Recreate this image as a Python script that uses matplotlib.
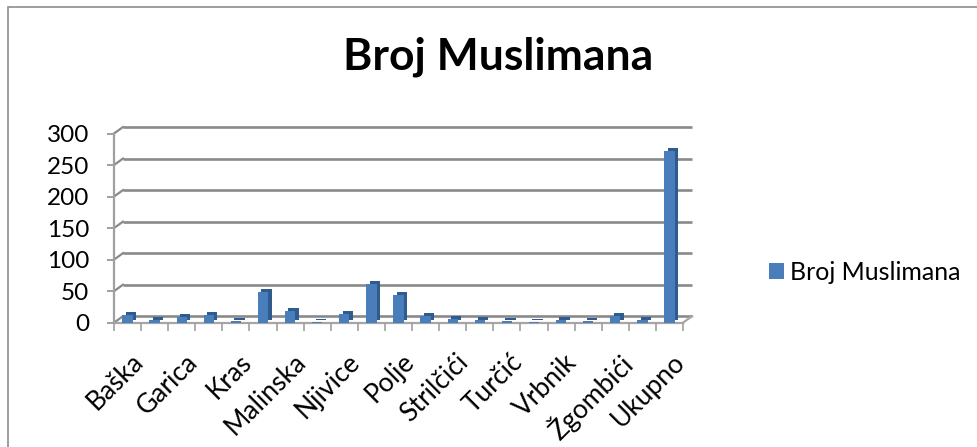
import matplotlib
matplotlib.use("Agg")
import matplotlib.pyplot as plt
import matplotlib.transforms as mtrans
from matplotlib.patches import Patch
import numpy as np

plt.rcParams['font.family'] = ['Lato', 'DejaVu Sans']

categories = ["Baška", "Dobrinj", "Garica", "Kornić", "Kras", "Krk", "Malinska",
              "Milohnići", "Njivice", "Omišalj", "Polje", "Punat", "Strilčići",
              "Šilo", "Turčić", "Vantačići", "Vrbnik", "Vrh", "Žgombići",
              "Ostalo", "Ukupno"]
values = [12, 4, 9, 12, 3, 49, 19, 1, 14, 61, 44, 10, 6, 4, 3, 1, 5, 3, 10, 4, 272]
yticks = [0, 50, 100, 150, 200, 250, 300]
series_name = "Broj Muslimana"
title = "Broj Muslimana"

W, H = 978, 447
fig = plt.figure(figsize=(W / 100, H / 100), dpi=100)

# outer frame (right and bottom edges fall outside the image)
fig.patches.append(plt.Rectangle((8 / W, -0.05), 1.1, 1.05 - 7 / H + 0.0,
                                 transform=fig.transFigure, fill=False,
                                 edgecolor="#8e8e8e", lw=1.2, clip_on=False))

left, right = 114 / W, 683 / W
bottom, top = 1 - 322.7 / H, 1 - 133.5 / H
ax = fig.add_axes([left, bottom, right - left, top - bottom])
x = np.arange(len(categories))
ax.set_xlim(-0.5, len(categories) - 0.5)
ax.set_ylim(0, 300)

# depth offset (back wall)
dx, dy = 9 / 100, 6.5 / 100
back = ax.transData + mtrans.ScaledTranslation(dx, dy, fig.dpi_scale_trans)
grid_c = "#8a8a8a"
xmin, xmax = -0.5, len(categories) - 0.5
for v in yticks:
    ax.plot([xmin, xmax], [v, v], transform=back, color=grid_c, lw=1.9,
            solid_capstyle="butt", zorder=1, clip_on=False)
for v in yticks:
    p0 = ax.transData.transform((xmin, v))
    p1 = back.transform((xmin, v))
    ax.plot([p0[0], p1[0]], [p0[1], p1[1]], transform=None, color=grid_c,
            lw=1.6, zorder=1, clip_on=False)
# floor front line and right diagonal
ax.plot([xmin, xmax], [0, 0], color="#a6a6a6", lw=1.6, zorder=1, clip_on=False)
p0 = ax.transData.transform((xmax, 0))
p1 = back.transform((xmax, 0))
ax.plot([p0[0], p1[0]], [p0[1], p1[1]], transform=None, color="#a6a6a6",
        lw=1.6, zorder=1, clip_on=False)

# 3D-ish bars
bw = 0.38
side = ax.transData + mtrans.ScaledTranslation(3.5 / 100, 3 / 100, fig.dpi_scale_trans)
ax.bar(x, values, width=bw, color="#2f5b8e", transform=side, zorder=2, clip_on=False)
ax.bar(x, values, width=bw, color="#4a7ebb", zorder=3, clip_on=False)

for s in ax.spines.values():
    s.set_visible(False)
ax.spines["left"].set_visible(True)
ax.spines["left"].set_color("#a0a0a0")
ax.spines["left"].set_linewidth(1.6)
ax.set_yticks(yticks)
ax.set_yticklabels([str(v) for v in yticks], fontsize=17.5)
ax.tick_params(axis="y", length=5, color="#a0a0a0", width=1.4, pad=13)

# x ticks at category boundaries, labels every other category
ax.set_xticks(np.arange(len(categories) + 1) - 0.5, minor=True)
ax.tick_params(axis="x", which="minor", length=6, color="#a0a0a0", width=1.2)
ax.set_xticks(x[::2])
ax.set_xticklabels(categories[::2], rotation=45, ha="right",
                   rotation_mode="anchor", fontsize=19)
ax.tick_params(axis="x", which="major", length=0, pad=19)
shift = mtrans.ScaledTranslation(3 / 100, 0, fig.dpi_scale_trans)
for lab in ax.get_xticklabels():
    lab.set_transform(lab.get_transform() + shift)

fig.text(0.509, 1 - 57 / H, title, ha="center", va="center",
         fontsize=32, fontweight="bold")

fig.legend(handles=[Patch(facecolor="#4a7ebb", label=series_name)],
           loc="center left", bbox_to_anchor=(769 / W, 1 - 272.5 / H),
           frameon=False, fontsize=18, handlelength=0.6, handleheight=0.6,
           handletextpad=0.25, borderpad=0, borderaxespad=0)

fig.savefig("out.png", dpi=100)
